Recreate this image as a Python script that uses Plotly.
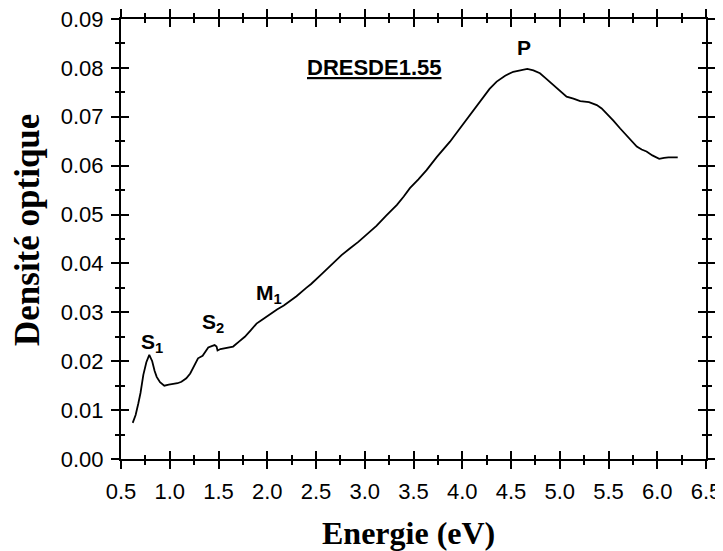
import plotly.graph_objects as go

energy = [0.62, 0.65, 0.678, 0.70, 0.729, 0.76, 0.79, 0.82, 0.845, 0.866, 0.90, 0.944, 0.99,
          1.036, 1.08, 1.12, 1.17, 1.21, 1.25, 1.29, 1.337, 1.37, 1.395, 1.43, 1.46, 1.48,
          1.49, 1.52, 1.549, 1.60, 1.65, 1.71, 1.77, 1.83, 1.89, 1.94, 1.99, 2.05, 2.10,
          2.17, 2.23, 2.30, 2.40, 2.45, 2.558, 2.66, 2.762, 2.85, 2.934, 3.03, 3.12, 3.22,
          3.33, 3.40, 3.463, 3.55, 3.634, 3.74, 3.874, 3.96, 4.045, 4.13, 4.215, 4.28,
          4.353, 4.44, 4.523, 4.60, 4.667, 4.73, 4.797, 4.86, 4.93, 5.00, 5.07, 5.14, 5.21,
          5.30, 5.38, 5.43, 5.48, 5.55, 5.62, 5.70, 5.79, 5.84, 5.89, 5.95, 6.02, 6.07,
          6.115, 6.21]
densite = [0.0074, 0.0090, 0.0114, 0.0135, 0.0172, 0.0198, 0.0213, 0.0200, 0.0180, 0.0168,
           0.0157, 0.0150, 0.0152, 0.0153, 0.0155, 0.0158, 0.0165, 0.0175, 0.0190, 0.0206,
           0.0211, 0.0222, 0.0228, 0.0231, 0.0233, 0.0230, 0.0222, 0.0225, 0.0226, 0.0228,
           0.0230, 0.0240, 0.0250, 0.0263, 0.0277, 0.0284, 0.0291, 0.0299, 0.0306, 0.0314,
           0.0322, 0.0333, 0.0350, 0.0358, 0.0378, 0.0397, 0.0417, 0.0431, 0.0444, 0.0461,
           0.0477, 0.0498, 0.0520, 0.0537, 0.0554, 0.0572, 0.0591, 0.0618, 0.0649, 0.0672,
           0.0695, 0.0719, 0.0741, 0.0757, 0.0772, 0.0784, 0.0792, 0.0796, 0.0798, 0.0795,
           0.0789, 0.0778, 0.0765, 0.0752, 0.0741, 0.0737, 0.0732, 0.0730, 0.0724, 0.0717,
           0.0707, 0.0692, 0.0676, 0.0658, 0.0639, 0.0633, 0.0629, 0.0621, 0.0614, 0.0616,
           0.0617, 0.0617]

x_ticks = [0.5, 1.0, 1.5, 2.0, 2.5, 3.0, 3.5, 4.0, 4.5, 5.0, 5.5, 6.0, 6.5]
x_tick_labels = ["0.5", "1.0", "1.5", "2.0", "2.5", "3.0", "3.5", "4.0", "4.5", "5.0", "5.5", "6.0", "6.5"]
y_ticks = [0.00, 0.01, 0.02, 0.03, 0.04, 0.05, 0.06, 0.07, 0.08, 0.09]
y_tick_labels = ["0.00", "0.01", "0.02", "0.03", "0.04", "0.05", "0.06", "0.07", "0.08", "0.09"]

peak_labels = ["<b>S<sub>1</sub></b>", "<b>S<sub>2</sub></b>", "<b>M<sub>1</sub></b>", "<b>P</b>"]
peak_x = [0.818, 1.444, 2.018, 4.633]
peak_y = [0.0237, 0.0278, 0.0337, 0.0841]
sample_name = "DRESDE1.55"
sample_pos = (3.1, 0.0800)
x_title = "Energie (eV)"
y_title = "Densité optique"

fig = go.Figure()
fig.add_trace(go.Scatter(x=energy, y=densite, mode="lines",
                         line=dict(color="black", width=1.8), showlegend=False,
                         hoverinfo="skip"))
fig.add_trace(go.Scatter(x=energy, y=densite, mode="lines", xaxis="x2", yaxis="y2",
                         line=dict(color="rgba(0,0,0,0)", width=0), showlegend=False,
                         hoverinfo="skip"))

tickfont = dict(family="Liberation Sans, Arial", size=22, color="black")
common_x = dict(range=[0.5, 6.5], tickmode="array", tickvals=x_ticks, automargin=False,
                showgrid=False, zeroline=False, showline=True, linecolor="black",
                linewidth=2, mirror="ticks", tickwidth=2, ticklen=8, tickcolor="black")
common_y = dict(range=[0, 0.09], tickmode="array", tickvals=y_ticks, automargin=False,
                showgrid=False, zeroline=False, showline=True, linecolor="black",
                linewidth=2, mirror="ticks", tickwidth=2, ticklen=8, tickcolor="black")

# page body has an 8px default margin, so the figure is shifted by 8px
fig.update_layout(
    width=715, height=543,
    margin=dict(l=113, r=17, t=11, b=92),
    plot_bgcolor="white", paper_bgcolor="white",
    xaxis=dict(**common_x, ticks="outside", ticktext=x_tick_labels, tickfont=tickfont,
               ticklabelstandoff=4, ticklabeloverflow="allow",
               minor=dict(ticks="outside", dtick=0.25, tick0=0.5, ticklen=4, tickwidth=1.5,
                          tickcolor="black", showgrid=False)),
    yaxis=dict(**common_y, ticks="outside", ticktext=y_tick_labels, tickfont=tickfont,
               ticklabelstandoff=3, ticklabeloverflow="allow",
               minor=dict(ticks="outside", dtick=0.005, tick0=0, ticklen=4, tickwidth=1.5,
                          tickcolor="black", showgrid=False)),
    xaxis2=dict(**common_x, ticks="inside", overlaying="x", showticklabels=False,
                minor=dict(ticks="inside", dtick=0.25, tick0=0.5, ticklen=4, tickwidth=1.5,
                           tickcolor="black", showgrid=False)),
    yaxis2=dict(**common_y, ticks="inside", overlaying="y", showticklabels=False,
                minor=dict(ticks="inside", dtick=0.005, tick0=0, ticklen=4, tickwidth=1.5,
                           tickcolor="black", showgrid=False)),
)

for t, x, y in zip(peak_labels, peak_x, peak_y):
    fig.add_annotation(x=x, y=y, text=t, showarrow=False, xref="x", yref="y",
                       font=dict(family="Liberation Sans, Arial", size=21, color="black"))

fig.add_annotation(x=sample_pos[0], y=sample_pos[1], text="<b><u>" + sample_name + "</u></b>",
                   showarrow=False, xref="x", yref="y",
                   font=dict(family="Liberation Sans, Arial", size=22, color="black"))

fig.add_annotation(x=0.492, y=-0.168, xref="paper", yref="paper", text="<b>" + x_title + "</b>",
                   showarrow=False, xanchor="center", yanchor="middle",
                   font=dict(family="Liberation Serif, Times New Roman", size=32, color="black"))
fig.add_annotation(x=-0.161, y=0.52, xref="paper", yref="paper", text="<b>" + y_title + "</b>",
                   showarrow=False, xanchor="center", yanchor="middle", textangle=-90,
                   font=dict(family="Liberation Serif, Times New Roman", size=35, color="black"))

fig.write_html("out.html")
